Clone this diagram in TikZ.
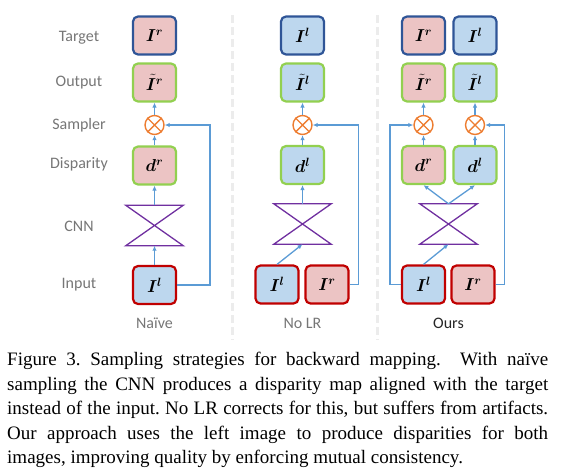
\documentclass[tikz,border=0pt]{standalone}
\usepackage{fontspec}
\usepackage{amsmath,bm}
\setmainfont{Liberation Serif}
\newfontfamily\lblfont{Carlito}
\usetikzlibrary{arrows.meta}
\definecolor{pinkfill}{RGB}{236,196,196}
\definecolor{bluefill}{RGB}{189,215,238}
\definecolor{greenedge}{RGB}{146,208,80}
\definecolor{navyedge}{RGB}{47,85,151}
\definecolor{rededge}{RGB}{192,0,0}
\definecolor{flowblue}{RGB}{91,155,213}
\definecolor{sampcol}{RGB}{237,125,49}
\definecolor{cnncol}{RGB}{112,48,160}
\definecolor{lblgray}{RGB}{118,118,118}
\tikzset{
  img/.style={rounded corners=5pt,line width=2.2pt,minimum width=43pt,minimum height=38pt,inner sep=0pt,font=\fontsize{18}{18}\selectfont},
  pinkimg/.style={img,fill=pinkfill},
  blueimg/.style={img,fill=bluefill},
  target/.style={draw=navyedge},
  outimg/.style={draw=greenedge},
  inimg/.style={draw=rededge},
  samp/.style={circle,draw=sampcol,line width=1.4pt,minimum size=19pt,inner sep=0pt},
  cnnbox/.style={minimum width=57pt,minimum height=40pt,inner sep=0pt},
  flow/.style={draw=flowblue,line width=1.3pt,-{Latex[length=5pt,width=4.5pt]}},
  rowlbl/.style={font=\lblfont\fontsize{16}{16}\selectfont,text=lblgray},
  sep/.style={gray!15,line width=3pt,dash pattern=on 8pt off 4pt}
}
\newcommand{\sampcross}[1]{\draw[sampcol,line width=1.4pt] (#1.45) -- (#1.225) (#1.135) -- (#1.315);}
\newcommand{\cnntie}[1]{\draw[cnncol,line width=1.3pt] (#1.north west) -- (#1.north east) -- (#1.south west) -- (#1.south east) -- cycle;}
\begin{document}
\begin{tikzpicture}[x=1pt,y=-1pt]
\useasboundingbox (0,0) rectangle (561,475);
% row labels
\node[rowlbl] (lt) at (79,38) {Target};
\node[rowlbl] (lo) at (79,83) {Output};
\node[rowlbl] (ls) at (79,125) {Sampler};
\node[rowlbl] (ld) at (79,164) {Disparity};
\node[rowlbl] (lc) at (79,226) {CNN};
\node[rowlbl] (li) at (79,285) {Input};
% separators
\draw[sep] (232,15) -- (232,340);
\draw[sep] (377,15) -- (377,340);
% naive
\node[pinkimg,target] (t1) at (154.5,35.5) {$\bm{I}^{\bm{r}}$};
\node[pinkimg,outimg] (o1) at (154.5,82.5) {$\tilde{\bm{I}}^{\bm{r}}$};
\node[samp] (s1) at (154.5,125) {};
\sampcross{s1}
\node[pinkimg,outimg] (d1) at (154.5,165.5) {$\bm{d}^{\bm{r}}$};
\node[cnnbox] (c1) at (154.5,225.5) {};
\cnntie{c1}
\node[blueimg,inimg] (i1) at (154.5,285) {$\bm{I}^{\bm{l}}$};
\draw[flow] (i1) -- (c1);
\draw[flow] (c1) -- (d1);
\draw[flow] (d1) -- (s1);
\draw[flow] (s1) -- (o1);
\draw[flow] (i1.east) -- ++(33,0) |- (s1.east);
\node[rowlbl] (n1) at (154.5,323) {Naïve};
% no LR
\node[blueimg,target] (t2) at (302.5,35.5) {$\bm{I}^{\bm{l}}$};
\node[blueimg,outimg] (o2) at (302.5,82.5) {$\tilde{\bm{I}}^{\bm{l}}$};
\node[samp] (s2) at (302.5,125) {};
\sampcross{s2}
\node[blueimg,outimg] (d2) at (302.5,165) {$\bm{d}^{\bm{l}}$};
\node[cnnbox] (c2) at (302.5,224) {};
\cnntie{c2}
\node[blueimg,inimg] (il2) at (277,284.5) {$\bm{I}^{\bm{l}}$};
\node[pinkimg,inimg] (ir2) at (327,284.5) {$\bm{I}^{\bm{r}}$};
\draw[flow] (il2.north) -- (c2.south);
\draw[flow] (c2) -- (d2);
\draw[flow] (d2) -- (s2);
\draw[flow] (s2) -- (o2);
\draw[flow] (ir2.east) -- ++(9,0) |- (s2.east);
\node[rowlbl] (n2) at (302.5,323) {No LR};
% ours
\node[pinkimg,target] (tr3) at (423.5,35.5) {$\bm{I}^{\bm{r}}$};
\node[blueimg,target] (tl3) at (475,35.5) {$\bm{I}^{\bm{l}}$};
\node[pinkimg,outimg] (or3) at (423.5,82.5) {$\tilde{\bm{I}}^{\bm{r}}$};
\node[blueimg,outimg] (ol3) at (475,82.5) {$\tilde{\bm{I}}^{\bm{l}}$};
\node[samp] (sr3) at (423.5,125) {};
\node[samp] (sl3) at (475,125) {};
\sampcross{sr3}
\sampcross{sl3}
\node[pinkimg,outimg] (dr3) at (423.5,165) {$\bm{d}^{\bm{r}}$};
\node[blueimg,outimg] (dl3) at (475,165) {$\bm{d}^{\bm{l}}$};
\node[cnnbox] (c3) at (448.5,224) {};
\cnntie{c3}
\node[blueimg,inimg] (il3) at (423.5,284.5) {$\bm{I}^{\bm{l}}$};
\node[pinkimg,inimg] (ir3) at (473,284.5) {$\bm{I}^{\bm{r}}$};
\draw[flow] (il3.north) -- (c3.south);
\draw[flow] (c3.north) -- (dr3.south);
\draw[flow] (c3.north) -- (dl3.south);
\draw[flow] (dr3) -- (sr3);
\draw[flow] (sr3) -- (or3);
\draw[flow] (dl3) -- (sl3);
\draw[flow] (sl3) -- (ol3);
\draw[flow] (il3.west) -- ++(-11,0) |- (sr3.west);
\draw[flow] (ir3.east) -- ++(9,0) |- (sl3.east);
\node[rowlbl,text=black!85] (n3) at (448.5,323) {Ours};
% caption
\node[anchor=north west,inner sep=0pt,text width=541pt,align=justify,font=\fontsize{19}{24.5}\selectfont] (cap) at (7,352)
{\frenchspacing Figure 3. Sampling strategies for backward mapping.\ \ With naïve\linebreak
sampling the CNN produces a disparity map aligned with the target\linebreak
instead of the input. No LR corrects for this, but suffers from artifacts.\linebreak
Our approach uses the left image to produce disparities for both\linebreak
images, improving quality by enforcing mutual consistency.};
\end{tikzpicture}
\end{document}
